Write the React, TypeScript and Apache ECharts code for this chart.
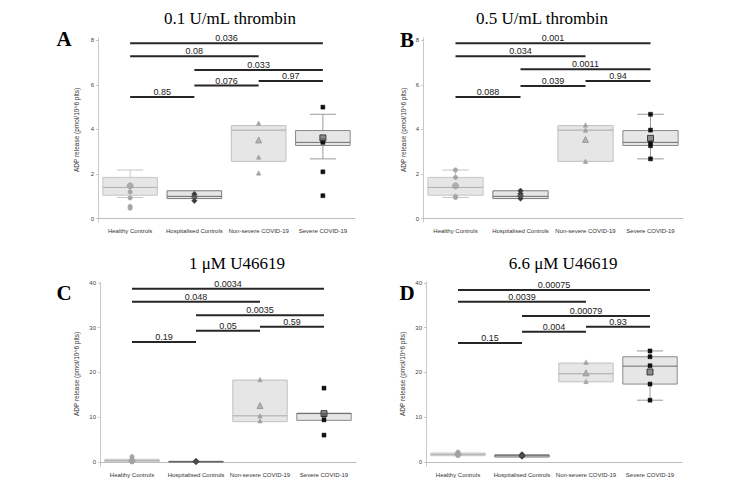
import React, { useEffect, useRef } from 'react';
import * as echarts from 'echarts';

const categories = ['Healthy Controls', 'Hospitalised Controls', 'Non-severe COVID-19', 'Severe COVID-19'];
const panelTitles = ['0.1 U/mL thrombin', '0.5 U/mL thrombin', '1 μM U46619', '6.6 μM U46619'];
const panelLetters = ['A', 'B', 'C', 'D'];
const yAxisName = 'ADP release (pmol/10^6 plts)';
const yTicksThrombin = [0, 2, 4, 6, 8];
const yTicksU = [0, 10, 20, 30, 40];

// box stats per category: [low whisker, q1, median, q3, high whisker]
const boxesA = [
  [0.95, 1.05, 1.4, 1.85, 2.18],
  [0.9, 0.9, 1.0, 1.25, 1.25],
  [2.57, 2.57, 3.97, 4.17, 4.17],
  [2.68, 3.28, 3.42, 3.95, 4.68],
];
const boxesB = [
  [0.95, 1.05, 1.4, 1.85, 2.18],
  [0.9, 0.9, 1.0, 1.25, 1.25],
  [2.57, 2.57, 3.97, 4.17, 4.17],
  [2.68, 3.28, 3.42, 3.95, 4.68],
];
const boxesC = [
  [0.05, 0.05, 0.3, 0.6, 0.6],
  [0.05, 0.05, 0.1, 0.15, 0.15],
  [9.0, 9.0, 10.3, 18.3, 18.3],
  [9.3, 9.3, 10.8, 10.9, 10.9],
];
const boxesD = [
  [1.4, 1.4, 1.7, 2.0, 2.0],
  [1.1, 1.1, 1.4, 1.6, 1.6],
  [17.9, 17.9, 19.7, 22.1, 22.1],
  [13.8, 17.4, 21.4, 23.5, 24.8],
];

// individual points per category
const pointsA = [
  [1.2, 0.93, 0.55, 0.47],
  [1.1, 0.8],
  [4.28, 2.76, 2.05],
  [5.0, 3.5, 3.42, 2.1, 1.03],
];
const pointsB = [
  [2.18, 1.85, 1.0, 0.95],
  [1.25, 1.12, 0.9],
  [4.2, 3.97, 2.57],
  [4.68, 3.97, 3.42, 3.27, 2.68],
];
const pointsC = [
  [1.2, 0.5, 0.1],
  [0.15, 0.05],
  [18.4, 10.3, 9.2],
  [16.5, 10.5, 9.4, 6.0],
];
const pointsD = [
  [2.2, 1.5],
  [1.7, 1.2],
  [22.3, 18.0],
  [24.8, 23.5, 21.5, 17.4, 13.8],
];

// group means
const meansA = [1.47, 0.98, 3.53, 3.62];
const meansB = [1.47, 1.03, 3.55, 3.6];
const meansC = [0.25, 0.1, 12.6, 10.8];
const meansD = [1.7, 1.35, 19.9, 20.1];

// significance brackets: [from category, to category, height]
const bracketsA = [[0, 3, 7.86], [0, 2, 7.28], [1, 3, 6.66], [2, 3, 6.17], [1, 2, 5.97], [0, 1, 5.45]];
const bracketLabelsA = ['0.036', '0.08', '0.033', '0.97', '0.076', '0.85'];
const bracketsB = [[0, 3, 7.86], [0, 2, 7.28], [1, 3, 6.7], [2, 3, 6.17], [1, 2, 5.95], [0, 1, 5.45]];
const bracketLabelsB = ['0.001', '0.034', '0.0011', '0.94', '0.039', '0.088'];
const bracketsC = [[0, 3, 38.7], [0, 2, 35.8], [1, 3, 32.8], [2, 3, 30.2], [1, 2, 29.3], [0, 1, 26.8]];
const bracketLabelsC = ['0.0034', '0.048', '0.0035', '0.59', '0.05', '0.19'];
const bracketsD = [[0, 3, 38.4], [0, 2, 35.8], [1, 3, 32.6], [2, 3, 30.2], [1, 2, 29.1], [0, 1, 26.6]];
const bracketLabelsD = ['0.00075', '0.0039', '0.00079', '0.93', '0.004', '0.15'];

const panels = [
  { boxes: boxesA, points: pointsA, means: meansA, brackets: bracketsA, labels: bracketLabelsA, ticks: yTicksThrombin },
  { boxes: boxesB, points: pointsB, means: meansB, brackets: bracketsB, labels: bracketLabelsB, ticks: yTicksThrombin },
  { boxes: boxesC, points: pointsC, means: meansC, brackets: bracketsC, labels: bracketLabelsC, ticks: yTicksU },
  { boxes: boxesD, points: pointsD, means: meansD, brackets: bracketsD, labels: bracketLabelsD, ticks: yTicksU },
];

// layout / style
const grids = [
  { left: 98, top: 38, width: 257, height: 184 },
  { left: 423, top: 38, width: 260, height: 184 },
  { left: 100, top: 282, width: 256, height: 184 },
  { left: 426, top: 282, width: 256, height: 184 },
];
const yRanges = [[-0.15, 8.1], [-0.15, 8.1], [-0.9, 40.2], [-0.9, 40.2]];
const nameGaps = [18, 16, 20, 20];
const titlePos = [[230, 18], [542, 18], [237, 263], [563, 263]];
const letterPos = [[64, 39], [407, 40], [64, 293], [407, 293]];

const boxStyles = [
  { stroke: '#c6c6c6', median: '#b0b0b0', whisker: '#c6c6c6' },
  { stroke: '#7a7a7a', median: '#6a6a6a', whisker: '#7a7a7a' },
  { stroke: '#c0c0c0', median: '#a8a8a8', whisker: '#c0c0c0' },
  { stroke: '#8a8a8a', median: '#6e6e6e', whisker: '#9a9a9a' },
];
const pointStyles = [
  { symbol: 'circle', color: '#a6a6a6', size: 4.5, border: '#a6a6a6' },
  { symbol: 'diamond', color: '#3a3a3a', size: 5.5, border: '#3a3a3a' },
  { symbol: 'triangle', color: '#a0a0a0', size: 4.5, border: '#a0a0a0' },
  { symbol: 'rect', color: '#111111', size: 4, border: '#111111' },
];
const meanStyles = [
  { color: '#a0a0a0', border: '#a0a0a0' },
  { color: '#555555', border: '#333333' },
  { color: '#a8a8a8', border: '#909090' },
  { color: '#777777', border: '#222222' },
];

function renderBox(params: any, api: any) {
  const idx = api.value(0);
  const low = api.value(1);
  const q1 = api.value(2);
  const med = api.value(3);
  const q3 = api.value(4);
  const high = api.value(5);
  const band = api.size([1, 0])[0];
  const w = band * 0.85;
  const cw = w * 0.48;
  const pLow = api.coord([idx, low]);
  const pQ1 = api.coord([idx, q1]);
  const pMed = api.coord([idx, med]);
  const pQ3 = api.coord([idx, q3]);
  const pHigh = api.coord([idx, high]);
  const cx = pMed[0];
  const st = boxStyles[idx];
  const children: any[] = [];
  if (high > q3) {
    children.push({ type: 'line', shape: { x1: cx, y1: pHigh[1], x2: cx, y2: pQ3[1] }, style: { stroke: st.whisker, lineWidth: 1 } });
    children.push({ type: 'line', shape: { x1: cx - cw / 2, y1: pHigh[1], x2: cx + cw / 2, y2: pHigh[1] }, style: { stroke: st.whisker, lineWidth: 1 } });
  }
  if (low < q1) {
    children.push({ type: 'line', shape: { x1: cx, y1: pLow[1], x2: cx, y2: pQ1[1] }, style: { stroke: st.whisker, lineWidth: 1 } });
    children.push({ type: 'line', shape: { x1: cx - cw / 2, y1: pLow[1], x2: cx + cw / 2, y2: pLow[1] }, style: { stroke: st.whisker, lineWidth: 1 } });
  }
  const h = Math.max(1, pQ1[1] - pQ3[1]);
  children.push({
    type: 'rect',
    shape: { x: cx - w / 2, y: pQ3[1], width: w, height: h },
    style: { fill: '#e6e6e6', stroke: st.stroke, lineWidth: 1 },
  });
  children.push({ type: 'line', shape: { x1: cx - w / 2, y1: pMed[1], x2: cx + w / 2, y2: pMed[1] }, style: { stroke: st.median, lineWidth: 1 } });
  return { type: 'group', children };
}

function makeBracketRenderer(labels: string[]) {
  return (params: any, api: any) => {
    const a = api.coord([api.value(0), api.value(2)]);
    const b = api.coord([api.value(1), api.value(2)]);
    return {
      type: 'group',
      children: [
        { type: 'line', shape: { x1: a[0], y1: a[1], x2: b[0], y2: b[1] }, style: { stroke: '#262626', lineWidth: 2 } },
        {
          type: 'text',
          x: (a[0] + b[0]) / 2,
          y: a[1] - 0.5,
          style: { text: labels[params.dataIndex], align: 'center', verticalAlign: 'bottom', fill: '#1a1a1a', font: '9px "Liberation Sans"' },
        },
      ],
    };
  };
}

export default function App() {
  const ref = useRef<HTMLDivElement>(null);
  useEffect(() => {
    if (!ref.current) return;
    const chart = echarts.init(ref.current, undefined, { renderer: 'svg' });
    const series: any[] = [];
    panels.forEach((p, pi) => {
      series.push({
        type: 'custom',
        xAxisIndex: pi,
        yAxisIndex: pi,
        renderItem: renderBox,
        encode: { x: 0, y: [1, 2, 3, 4, 5] },
        data: p.boxes.map((b, ci) => [ci, ...b]),
        z: 1,
        silent: true,
      });
      series.push({
        type: 'custom',
        xAxisIndex: pi,
        yAxisIndex: pi,
        renderItem: makeBracketRenderer(p.labels),
        encode: { x: [0, 1], y: 2 },
        data: p.brackets,
        z: 3,
        silent: true,
      });
      p.points.forEach((vals, ci) => {
        const ps = pointStyles[ci];
        series.push({
          type: 'scatter',
          xAxisIndex: pi,
          yAxisIndex: pi,
          symbol: ps.symbol,
          symbolSize: ps.size,
          itemStyle: { color: ps.color, borderColor: ps.border, borderWidth: 0.5, opacity: 1 },
          data: vals.map((v) => [ci, v]),
          z: 4,
          silent: true,
        });
      });
      series.push({
        type: 'scatter',
        xAxisIndex: pi,
        yAxisIndex: pi,
        symbolSize: 6,
        data: p.means.map((v, ci) => ({
          value: [ci, v],
          symbol: pointStyles[ci].symbol,
          itemStyle: { color: meanStyles[ci].color, borderColor: meanStyles[ci].border, borderWidth: 1 },
        })),
        z: 5,
        silent: true,
      });
    });

    const graphic: any[] = [];
    panelTitles.forEach((t, i) => {
      graphic.push({
        type: 'text',
        x: titlePos[i][0],
        y: titlePos[i][1],
        style: { text: t, align: 'center', verticalAlign: 'middle', fill: '#000', font: '17px "Liberation Serif"' },
      });
      graphic.push({
        type: 'text',
        x: letterPos[i][0],
        y: letterPos[i][1],
        style: { text: panelLetters[i], align: 'center', verticalAlign: 'middle', fill: '#000', font: 'bold 21px "Liberation Serif"' },
      });
    });

    chart.setOption({
      animation: false,
      backgroundColor: '#ffffff',
      textStyle: { fontFamily: 'Liberation Sans' },
      grid: grids.map((g) => ({ ...g })),
      xAxis: grids.map((g, i) => ({
        type: 'category',
        gridIndex: i,
        data: categories,
        boundaryGap: true,
        axisLine: { show: true, lineStyle: { color: '#bdbdbd', width: 1 } },
        axisTick: { show: false },
        axisLabel: { interval: 0, fontSize: 6, color: '#333', margin: 6 },
        splitLine: { show: false },
      })),
      yAxis: grids.map((g, i) => ({
        type: 'value',
        gridIndex: i,
        min: yRanges[i][0],
        max: yRanges[i][1],
        name: yAxisName,
        nameLocation: 'middle',
        nameGap: nameGaps[i],
        nameTextStyle: { fontSize: 6.5, color: '#333' },
        axisLine: { show: true, lineStyle: { color: '#c8c8c8', width: 1 } },
        axisTick: { show: true, length: 2, lineStyle: { color: '#c8c8c8' }, customValues: panels[i].ticks },
        axisLabel: { fontSize: 6, color: '#444', margin: 4, customValues: panels[i].ticks },
        splitLine: { show: false },
      })),
      series,
      graphic,
    });
    return () => chart.dispose();
  }, []);
  return <div ref={ref} style={{ position: 'absolute', left: 0, top: 0, width: 750, height: 487 }} />;
}
